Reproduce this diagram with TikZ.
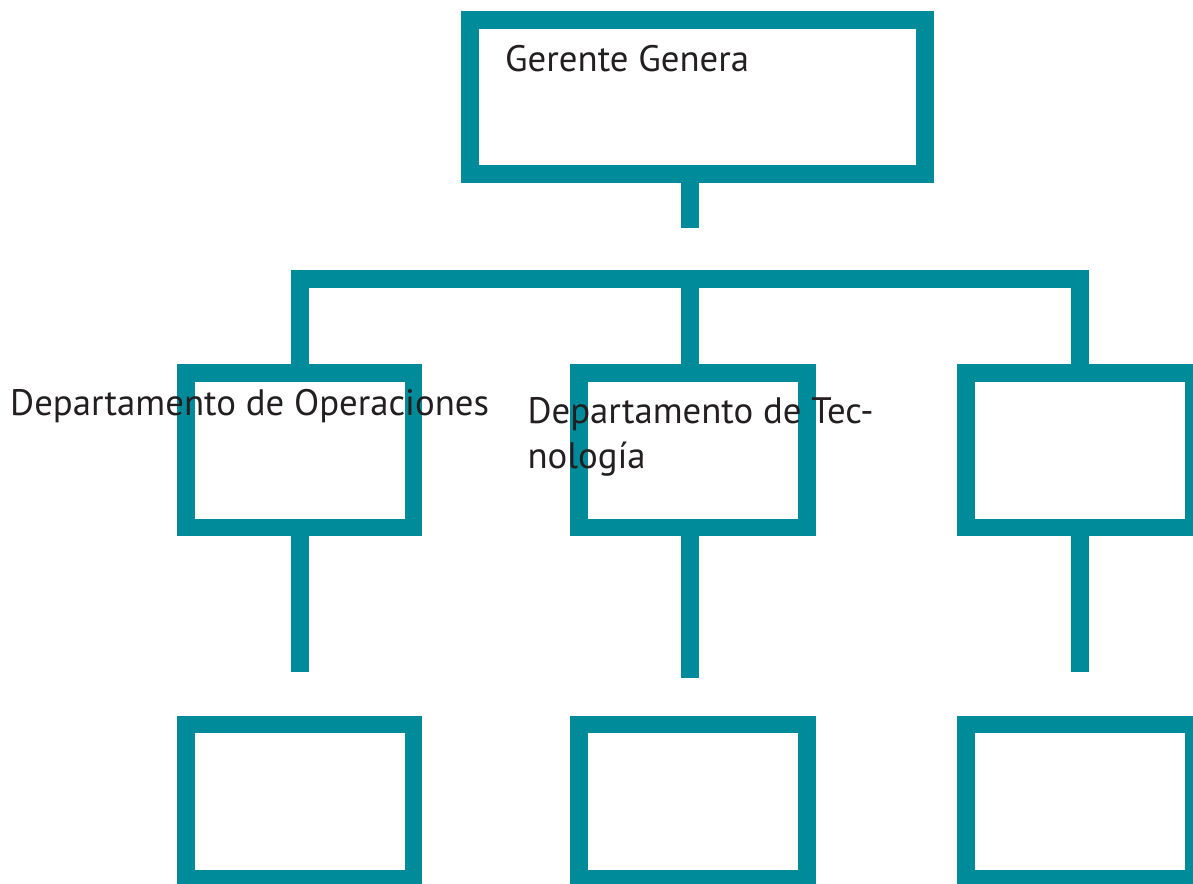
\documentclass[tikz,border=0pt]{standalone}
\usepackage{fontspec}
\setmainfont{PT Sans}
\definecolor{orgteal}{RGB}{0,139,155}
\definecolor{orgtext}{RGB}{35,31,32}
\tikzset{
  caja/.style={draw=orgteal,line width=17.7pt,minimum width=227.6pt,minimum height=154.3pt,inner sep=0pt},
  linea/.style={draw=orgteal,line width=17.7pt},
  texto/.style={anchor=base west,inner sep=0pt,text=orgtext,font=\fontsize{36.8}{45}\selectfont}
}

\begin{document}
\begin{tikzpicture}[x=1pt,y=-1pt]
            \useasboundingbox (0,0) rectangle (1193,883);
            % boxes
            \node[caja,minimum width=454.7pt] (gg) at (697.5,97) {};
            \node[caja] (dop) at (299.7,450.3) {};
            \node[caja] (dtec) at (693,450.3) {};
            \node[caja] (d3) at (1080,450.3) {};
            \node[caja] (u1) at (299.7,801.6) {};
            \node[caja] (u2) at (693,801.6) {};
            \node[caja] (u3) at (1080,801.6) {};
            % connectors
            \coordinate (gstub) at (690,227.7);
            \coordinate (bar) at (690,278.7);
            \coordinate (e1) at (299.7,671.7);
            \coordinate (e2) at (690,678);
            \coordinate (e3) at (1080,671.7);
            \draw[linea] (gg.south -| gstub)--(gstub);
            \draw[linea] (dop.north) |- (bar) -| (d3.north);
            \draw[linea] (bar)--(dtec.north -| bar);
            \draw[linea] (dop.south)--(e1);
            \draw[linea] (dtec.south -| e2)--(e2);
            \draw[linea] (d3.south)--(e3);
            % labels
            \node[texto] (tgg) at (505,71.7) {Gerente Genera};
            \node[texto] (tdop) at (10,415) {Departamento de Operaciones};
            \node[texto,align=left] (tdtec) at (527.3,468.3) {Departamento de Tec-\\nología};
        \end{tikzpicture}
\end{document}
